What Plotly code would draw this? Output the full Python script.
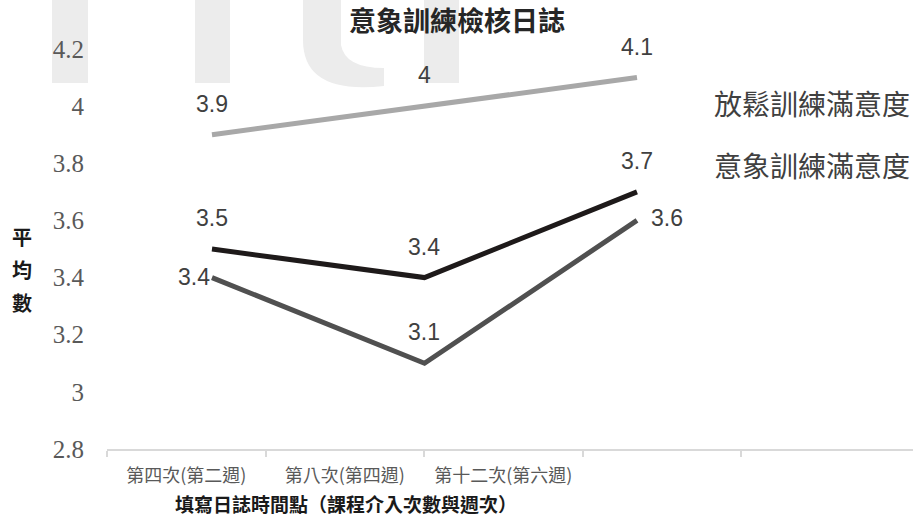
import plotly.graph_objects as go

# ---- data ----
categories = ["第四次(第二週)", "第八次(第四週)", "第十二次(第六週)"]
relax = [3.9, 4.0, 4.1]          # 放鬆訓練滿意度
imagery = [3.5, 3.4, 3.7]        # 意象訓練滿意度
third = [3.4, 3.1, 3.6]          # 未標示系列
series_names = ["放鬆訓練滿意度", "意象訓練滿意度"]
y_ticks = [2.8, 3.0, 3.2, 3.4, 3.6, 3.8, 4.0, 4.2]
title_text = "意象訓練檢核日誌"
x_title = "填寫日誌時間點（課程介入次數與週次）"
y_title = "平均數"

# ---- geometry helpers (pixel -> paper) ----
W, H = 914, 527
L, R, T, B = 107, 1, 49, 78
PW, PH = W - L - R, H - T - B


def px(x):
    return (x - L) / PW


def py(y):
    return (H - B - y) / PH


fig = go.Figure()

label_font = dict(family="Liberation Sans, Arial, sans-serif", size=23, color="#404040")

# empty trace so the tick/label axis is drawn
fig.add_trace(go.Scatter(x=[], y=[], xaxis="x", yaxis="y", showlegend=False, hoverinfo="skip"))

fig.add_trace(go.Scatter(x=categories, y=relax, mode="lines", name=series_names[0],
                         line=dict(color="#a8a8a8", width=5), xaxis="x2", yaxis="y",
                         showlegend=False, hoverinfo="skip"))
fig.add_trace(go.Scatter(x=categories, y=third, mode="lines", name="",
                         line=dict(color="#505050", width=5), xaxis="x2", yaxis="y",
                         showlegend=False, hoverinfo="skip"))
fig.add_trace(go.Scatter(x=categories, y=imagery, mode="lines", name=series_names[1],
                         line=dict(color="#1e1a1a", width=5), xaxis="x2", yaxis="y",
                         showlegend=False, hoverinfo="skip"))

annotations = []
# data labels
for c, v in zip(categories, relax):
    annotations.append(dict(x=c, y=v, xref="x2", yref="y", text=f"{v:g}", showarrow=False,
                            yshift=31, font=label_font))
for c, v in zip(categories, imagery):
    annotations.append(dict(x=c, y=v, xref="x2", yref="y", text=f"{v:g}", showarrow=False,
                            yshift=31, font=label_font))
third_pos = [("right", 0, 1), ("center", 0, 31), ("left", 12, 2)]
for (c, v), (anchor, xs, ys) in zip(zip(categories, third), third_pos):
    annotations.append(dict(x=c, y=v, xref="x2", yref="y", text=f"{v:g}", showarrow=False,
                            xanchor=anchor, xshift=xs, yshift=ys, font=label_font))

# series name labels
for name, yy in zip(series_names, [103, 165]):
    annotations.append(dict(x=px(712), y=py(yy), xref="paper", yref="paper", text=name,
                            showarrow=False, xanchor="left", yanchor="middle",
                            font=dict(family="Noto Sans CJK TC", size=28, color="#404040")))

# title
annotations.append(dict(x=px(457), y=py(20), xref="paper", yref="paper", text=f"<b>{title_text}</b>",
                        showarrow=False, xanchor="center", yanchor="middle",
                        font=dict(family="Noto Sans CJK TC", size=27, color="#262626")))
# x title
annotations.append(dict(x=px(346), y=py(503), xref="paper", yref="paper", text=f"<b>{x_title}</b>",
                        showarrow=False, xanchor="center", yanchor="middle",
                        font=dict(family="Noto Sans CJK TC", size=19, color="#1a1a1a")))
# y title (vertical stacked)
for i, ch in enumerate(y_title):
    annotations.append(dict(x=px(22), y=py(236 + 33 * i), xref="paper", yref="paper", text=f"<b>{ch}</b>",
                            showarrow=False, xanchor="center", yanchor="middle",
                            font=dict(family="Noto Sans CJK TC", size=20, color="#1a1a1a")))

# watermark shapes
wm = "#ececec"
shapes = []
for x0, x1 in [(52, 88), (195, 230), (424, 459)]:
    shapes.append(dict(type="rect", xref="paper", yref="paper", x0=px(x0), x1=px(x1),
                       y0=py(83), y1=py(-5), fillcolor=wm, line=dict(width=0), layer="below"))
c_pts = f"M {px(303)},{py(-5)} L {px(341)},{py(-5)} L {px(341)},{py(45)} " \
        f"Q {px(345)},{py(68)} {px(384)},{py(68)} L {px(384)},{py(86)} " \
        f"Q {px(303)},{py(95)} {px(303)},{py(40)} Z"
shapes.append(dict(type="path", xref="paper", yref="paper", path=c_pts, fillcolor=wm,
                   line=dict(width=0), layer="below"))

n_slots = PW / 158.5
fig.update_layout(
    width=W, height=H,
    margin=dict(l=L, r=R, t=T, b=B, pad=0),
    paper_bgcolor="white", plot_bgcolor="rgba(0,0,0,0)",
    showlegend=False,
    annotations=annotations,
    shapes=shapes,
    xaxis=dict(
        type="linear", range=[0, n_slots],
        tickmode="array", tickvals=[0.5, 1.5, 2.5], ticktext=categories,
        ticks="outside", ticklen=6, tickcolor="rgba(0,0,0,0)", ticklabelstandoff=3,
        tickfont=dict(family="Noto Sans CJK TC", size=18, color="#595959"),
        showline=True, linecolor="#d9d9d9", linewidth=2,
        showgrid=False, zeroline=False, fixedrange=True,
        minor=dict(tickmode="array", tickvals=[0, 1, 2, 3, 4], ticks="outside",
                   ticklen=6, tickcolor="#d9d9d9", tickwidth=2, showgrid=False),
    ),
    xaxis2=dict(
        type="category", overlaying="x", visible=False,
        range=[-0.494, -0.494 + PW / 212.5], categoryorder="array", categoryarray=categories,
    ),
    yaxis=dict(
        range=[2.8, 4.2], tickmode="array", tickvals=y_ticks,
        ticktext=[f"{v:g}" for v in y_ticks],
        showgrid=False, zeroline=False, showline=False, ticks="",
        ticklabelstandoff=22,
        tickfont=dict(family="Liberation Serif, Times New Roman, serif", size=25, color="#595959"),
    ),
)

fig.write_html("out.html", config={"displayModeBar": False},
               post_script="document.body.style.margin='0';document.body.style.padding='0';")
